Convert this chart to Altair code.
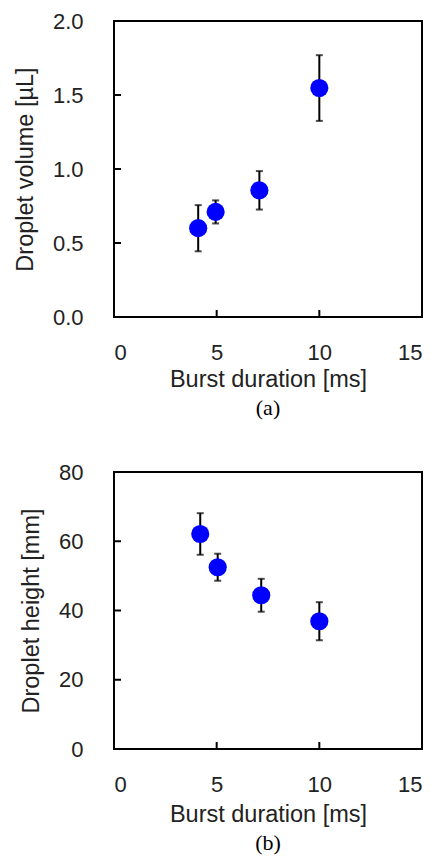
import altair as alt
import pandas as pd

# ---- data ----
dur_a = [4.1, 4.95, 7.08, 10.0]
volume = [0.60, 0.71, 0.856, 1.547]
volume_err = [0.156, 0.078, 0.13, 0.222]

dur_b = [4.2, 5.05, 7.17, 10.0]
height = [62.1, 52.5, 44.4, 36.9]
height_err = [6.0, 3.9, 4.75, 5.5]

x_ticks = [0, 5, 10, 15]
y_ticks_a = [0.0, 0.5, 1.0, 1.5, 2.0]
y_ticks_b = [0, 20, 40, 60, 80]

W = 308
H_A = 296
H_B = 277
TICK = 7
FONT = "Liberation Sans"
TXT = "#222222"


def panel(xs, ys, errs, yticks, ytitle, yfmt, h, caption, xtitle_pad):
    df = pd.DataFrame({
        "x": xs,
        "y": ys,
        "lo": [v - e for v, e in zip(ys, errs)],
        "hi": [v + e for v, e in zip(ys, errs)],
    })
    xs_scale = alt.Scale(domain=[x_ticks[0], x_ticks[-1]], nice=False, zero=False)
    ys_scale = alt.Scale(domain=[yticks[0], yticks[-1]], nice=False, zero=False)
    xax = alt.Axis(values=x_ticks, format="d", title="Burst duration [ms]",
                   labelPadding=25, titlePadding=xtitle_pad, ticks=False, domain=False, grid=False)
    yax = alt.Axis(values=yticks, format=yfmt, title=ytitle,
                   labelPadding=31, titlePadding=15, ticks=False, domain=False, grid=False)

    base = alt.Chart(df)
    rules = base.mark_rule(color="black", strokeWidth=2).encode(
        x=alt.X("x:Q", scale=xs_scale, axis=xax),
        y=alt.Y("lo:Q", scale=ys_scale, axis=yax),
        y2="hi:Q",
    )
    caps_lo = base.mark_tick(orient="horizontal", color="black", size=7, thickness=2).encode(
        x="x:Q", y="lo:Q")
    caps_hi = base.mark_tick(orient="horizontal", color="black", size=7, thickness=2).encode(
        x="x:Q", y="hi:Q")
    pts = base.mark_circle(color="#0000ff", size=330, opacity=1).encode(
        x="x:Q", y="y:Q")

    xt = pd.DataFrame({"t": x_ticks[1:-1]})
    yt = pd.DataFrame({"t": yticks[1:-1]})
    xtick_marks = alt.Chart(xt).mark_rule(color="black", strokeWidth=2).encode(
        x=alt.X("t:Q", scale=xs_scale), y=alt.value(h), y2=alt.value(h - TICK))
    ytick_marks = alt.Chart(yt).mark_rule(color="black", strokeWidth=2).encode(
        y=alt.Y("t:Q", scale=ys_scale), x=alt.value(0), x2=alt.value(TICK))

    return alt.layer(rules, caps_lo, caps_hi, pts, xtick_marks, ytick_marks).properties(
        width=W, height=h,
        title=alt.TitleParams(caption, orient="bottom", anchor="middle", frame="group",
                              font="Liberation Serif", fontSize=22, fontWeight="normal",
                              color="black", offset=7),
    )


top = panel(dur_a, volume, volume_err, y_ticks_a, "Droplet volume [µL]", ".1f", H_A, "(a)", 4)
bottom = panel(dur_b, height, height_err, y_ticks_b, "Droplet height [mm]", "d", H_B, "(b)", 7)

chart = alt.vconcat(top, bottom, spacing=40).properties(
    padding={"left": 12, "top": 9, "right": 5, "bottom": 5},
    background="white",
).configure_view(stroke="black", strokeWidth=2).configure_axis(
    labelFont=FONT, titleFont=FONT, labelFontSize=22, titleFontSize=23.5,
    labelColor=TXT, titleColor=TXT, titleFontWeight="normal",
)

chart.save("out.html", embed_options={"renderer": "svg", "actions": False})
